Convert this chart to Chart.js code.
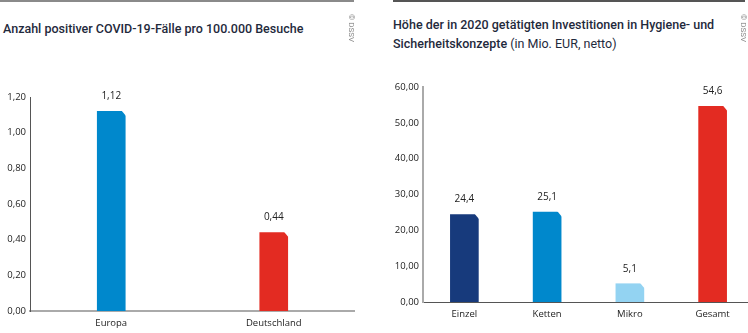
<!DOCTYPE html>
<html lang="de">
<head>
<meta charset="UTF-8">
<title>COVID-19-Fälle und Investitionen in Hygienekonzepte</title>
<script src="https://cdn.jsdelivr.net/npm/chart.js"></script>
<style>
  body {
    margin: 0;
    width: 748px;
    height: 333px;
    overflow: hidden;
    position: relative;
    background: #fff;
    font-family: Roboto, Arial, sans-serif;
    color: #1f2a3c;
  }
  .rule { position: absolute; top: 0; height: 2px; }
  .title {
    position: absolute;
    font-size: 12.5px;
    font-weight: 500;
    line-height: 19px;
    white-space: nowrap;
  }
  .title span { font-weight: 400; }
  .src {
    position: absolute;
    font-family: Roboto, sans-serif;
    font-size: 8px;
    color: #8a8a8a;
    white-space: nowrap;
    transform: rotate(90deg);
    transform-origin: left top;
    z-index: 2;
  }
  .box { position: absolute; top: 0; height: 333px; }
</style>
</head>
<body>
  <div class="rule" style="left:0; width:354px; background:#8a8a8a;"></div>
  <div class="rule" style="left:393px; width:352px; background:#555;"></div>

  <div class="title" style="left:3px; top:19px;">Anzahl positiver COVID-19-Fälle pro 100.000 Besuche</div>
  <div class="title" style="left:393px; top:15px;">Höhe der in 2020 getätigten Investitionen in Hygiene- und<br>Sicherheitskonzepte <span>(in Mio. EUR, netto)</span></div>

  <div class="src" style="left:356px; top:14px;">© DSSV</div>
  <div class="src" style="left:748px; top:14px;">© DSSV</div>

  <div class="box" style="left:0; width:355px;"><canvas id="casesChart"></canvas></div>
  <div class="box" style="left:393px; width:361px;"><canvas id="investChart"></canvas></div>

<script>
  // Fälle pro 100.000 Besuche
  const caseRegions = ["Europa", "Deutschland"];
  const caseValues = [1.12, 0.44];
  const caseColors = ["#0088cc", "#e32b22"];

  // Investitionen in Mio. EUR
  const investGroups = ["Einzel", "Ketten", "Mikro", "Gesamt"];
  const investValues = [24.4, 25.1, 5.1, 54.6];
  const investColors = ["#173a7c", "#0088cc", "#93d3f2", "#e32b22"];

  const tickFont = { family: "'Open Sans', sans-serif", size: 9.5 };

  // value label above each bar + the clipped top-right corner
  const valueLabels = {
    id: "valueLabels",
    afterDatasetsDraw(chart, args, opts) {
      const ctx = chart.ctx;
      const values = chart.data.datasets[0].data;
      chart.getDatasetMeta(0).data.forEach((bar, i) => {
        const right = bar.x + bar.width / 2;
        ctx.save();
        ctx.fillStyle = "#fff";
        ctx.beginPath();
        ctx.moveTo(right - 4, bar.y - 1);
        ctx.lineTo(right + 1, bar.y - 1);
        ctx.lineTo(right + 1, bar.y + 5);
        ctx.closePath();
        ctx.fill();

        ctx.fillStyle = "#222";
        ctx.font = "10px 'Open Sans', sans-serif";
        ctx.textAlign = "center";
        ctx.textBaseline = "middle";
        ctx.fillText(values[i].toFixed(opts.decimals).replace(".", ","), bar.x, bar.y - 15);
        ctx.restore();
      });
    }
  };

  function makeChart(id, labels, values, colors, cfg) {
    return new Chart(document.getElementById(id), {
      type: "bar",
      data: {
        labels: labels,
        datasets: [{
          data: values,
          backgroundColor: colors,
          barThickness: 28
        }]
      },
      plugins: [valueLabels],
      options: {
        responsive: true,
        maintainAspectRatio: false,
        animation: false,
        layout: { padding: { top: cfg.top, right: 0, bottom: 0, left: 0 } },
        plugins: {
          legend: { display: false },
          tooltip: { enabled: false },
          valueLabels: { decimals: cfg.labelDecimals }
        },
        scales: {
          x: {
            grid: { display: false, drawTicks: false },
            border: { color: cfg.xBorder, width: cfg.xBorderWidth },
            ticks: { color: "#222", font: tickFont, padding: 7 },
            afterFit: s => { s.height = cfg.xHeight; }
          },
          y: {
            min: 0,
            max: cfg.max,
            grid: { display: false, drawTicks: false },
            border: { color: cfg.yBorder, width: cfg.yBorderWidth },
            ticks: {
              stepSize: cfg.step,
              color: "#222",
              font: tickFont,
              padding: 4,
              callback: v => v.toFixed(2).replace(".", ",")
            },
            afterFit: s => { s.width = 30; }
          }
        }
      }
    });
  }

  makeChart("casesChart", caseRegions, caseValues, caseColors, {
    top: 97, xHeight: 22, max: 1.2, step: 0.2, labelDecimals: 2,
    xBorder: "#aaa", xBorderWidth: 2, yBorder: "#555", yBorderWidth: 1
  });

  makeChart("investChart", investGroups, investValues, investColors, {
    top: 87, xHeight: 31, max: 60, step: 10, labelDecimals: 1,
    xBorder: "#555", xBorderWidth: 1, yBorder: "#aaa", yBorderWidth: 2
  });
</script>
</body>
</html>
